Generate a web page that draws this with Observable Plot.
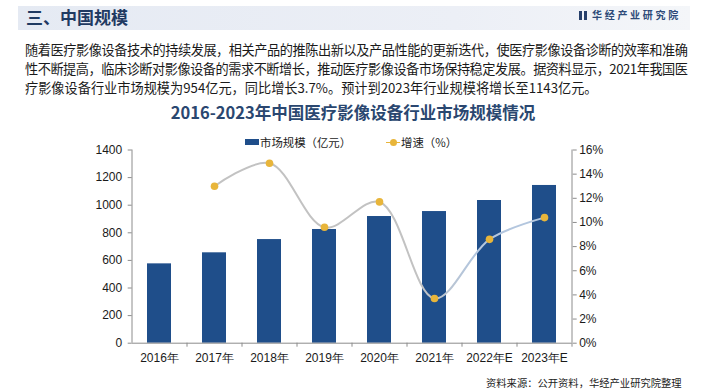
<!DOCTYPE html>
<html>
<head>
<meta charset="utf-8">
<script src="https://cdn.jsdelivr.net/npm/d3@7"></script>
<script src="https://cdn.jsdelivr.net/npm/@observablehq/plot@0.6"></script>
<style>
  html, body { margin: 0; padding: 0; background: #fff; }
  #root { position: relative; width: 705px; height: 392px; overflow: hidden; background: #fff;
          font-family: "Noto Sans CJK SC", "Noto Sans", sans-serif; }
  .abs { position: absolute; white-space: nowrap; }
  #chart { position: absolute; left: 0; top: 130px; }
  .para { position: absolute; left: 25px; font-size: 13.2px; line-height: 18px; color: #1a1a1a; white-space: nowrap; }
</style>
</head>
<body>
<div id="root">
  <div class="abs" style="left:18px;top:6px;width:672px;height:24px;background:linear-gradient(90deg,#e5eaf3 0%,#eceff6 65%,#f4f6f9 100%);"></div>
  <div class="abs" id="hdr" style="left:26px;top:5px;line-height:24px;font-size:17px;font-weight:700;color:#1f3a62;"></div>
  <div class="abs" style="left:579px;top:11px;width:3px;height:9px;background:#27406b;"></div>
  <div class="abs" style="left:583.5px;top:11px;width:3px;height:9px;background:#27406b;"></div>
  <div class="abs" id="logo" style="left:592px;top:7px;line-height:16px;font-size:10px;letter-spacing:2.7px;font-weight:700;color:#2d4a78;"></div>
  <div class="para" id="p1" style="top:41px;"></div>
  <div class="para" id="p2" style="top:60px;"></div>
  <div class="para" id="p3" style="top:79px;"></div>
  <div class="abs" id="ctitle" style="left:0;width:706px;text-align:center;top:100px;line-height:24px;font-size:16.5px;font-weight:700;color:#2a4770;"></div>
  <div id="chart"></div>
  <div class="abs" id="legend" style="left:0;top:133px;height:18px;width:705px;font-size:11.4px;line-height:18px;color:#1a1a1a;z-index:2;"></div>
  <div class="abs" id="src" style="left:486px;top:375px;line-height:16px;font-size:10.3px;color:#222;"></div>
</div>
<script>
// ---- text ----
const headerText = "三、中国规模";
const logoText = "华经产业研究院";
const paraLines = [
  "随着医疗影像设备技术的持续发展，相关产品的推陈出新以及产品性能的更新迭代，使医疗影像设备诊断的效率和准确",
  "性不断提高，临床诊断对影像设备的需求不断增长，推动医疗影像设备市场保持稳定发展。据资料显示，2021年我国医",
  "疗影像设备行业市场规模为954亿元，同比增长3.7%。预计到2023年行业规模将增长至1143亿元。"
];
const chartTitle = "2016-2023年中国医疗影像设备行业市场规模情况";
const legendBar = "市场规模（亿元）";
const legendLine = "增速（%）";
const sourceText = "资料来源：公开资料，华经产业研究院整理";

// ---- data ----
const years = ["2016年", "2017年", "2018年", "2019年", "2020年", "2021年", "2022年E", "2023年E"];
const marketSize = [575, 655, 751, 824, 918, 954, 1034, 1143];
const growthPct = [null, 13.0, 14.9, 9.6, 11.7, 3.7, 8.6, 10.4];
const leftTicks = [0, 200, 400, 600, 800, 1000, 1200, 1400];
const rightTicks = [0, 2, 4, 6, 8, 10, 12, 14, 16];

// ---- colors ----
const barColor = "#1f4e8a";
const dotColor = "#e8b53a";
const axisColor = "#8c8c8c";

document.getElementById("hdr").textContent = headerText;
document.getElementById("logo").textContent = logoText;
["p1", "p2", "p3"].forEach((id, i) => { document.getElementById(id).textContent = paraLines[i]; });
document.getElementById("ctitle").textContent = chartTitle;
document.getElementById("src").textContent = sourceText;

// fit the first two paragraph lines to the reference line width
const lineTargets = [663, 663, null];
["p1", "p2", "p3"].forEach((id, i) => {
  const el = document.getElementById(id);
  const target = lineTargets[i];
  if (target) {
    const w = el.getBoundingClientRect().width;
    const n = [...paraLines[i]].length;
    el.style.letterSpacing = ((target - w) / (n - 1)) + "px";
  }
});

// legend
const lg = document.getElementById("legend");
lg.innerHTML =
  `<div class="abs" style="left:245px;top:6px;width:14px;height:6px;background:${barColor}"></div>` +
  `<div class="abs" style="left:260px;top:0">${legendBar}</div>` +
  `<div class="abs" style="left:386px;top:8.5px;width:14px;height:1.5px;background:${dotColor}"></div>` +
  `<div class="abs" style="left:389.5px;top:5.5px;width:7px;height:7px;border-radius:50%;background:${dotColor}"></div>` +
  `<div class="abs" style="left:401px;top:0">${legendLine}</div>`;

// ---- build chart ----
const rightMax = 16, leftMax = 1400;
const k = leftMax / rightMax; // maps percent onto the left-axis scale
const bars = years.map((y, i) => ({year: y, value: marketSize[i]}));
const growth = years.map((y, i) => ({year: y, g: growthPct[i]})).filter(d => d.g != null);

const chart = Plot.plot({
  width: 705,
  height: 240,
  marginTop: 19.5,
  marginBottom: 27.3,
  marginLeft: 131.7,
  marginRight: 133.3,
  style: {fontFamily: "'Liberation Sans', Arial, sans-serif", fontSize: "12px", background: "transparent", overflow: "visible"},
  x: {domain: years, paddingInner: 0.56, paddingOuter: 0.28},
  y: {domain: [0, leftMax]},
  marks: [
    Plot.barY(bars, {x: "year", y: "value", fill: barColor}),
    Plot.ruleY([0], {stroke: axisColor}),
    Plot.ruleX([years[0]], {dx: -27.5, stroke: axisColor}),
    Plot.ruleX([years[years.length - 1]], {dx: 27.5, stroke: axisColor}),
    Plot.ruleX(years, {x: d => d, dx: 27.5, y1: 0, y2: 0, insetBottom: -4, stroke: axisColor}),
    Plot.axisY(leftTicks, {anchor: "left", tickSize: 4, tickPadding: 6, stroke: axisColor, fill: "#1a1a1a", label: null,
      tickFormat: d => String(d)}),
    Plot.axisY(rightTicks.map(v => v * k), {anchor: "right", tickSize: 4, tickPadding: 3, stroke: axisColor, fill: "#1a1a1a", label: null,
      tickFormat: d => Math.round(d / k) + "%"}),
    Plot.axisX({tickSize: 0, tickPadding: 10, fill: "#1a1a1a", label: null}),
    Plot.line(growth, {x: "year", y: d => d.g * k, curve: "catmull-rom", stroke: "url(#growthGrad)", strokeWidth: 2}),
    Plot.dot(growth, {x: "year", y: d => d.g * k, r: 3.8, fill: dotColor, stroke: "none"})
  ]
});

// gradient for the growth line (gray turning light blue toward the end)
const ns = "http://www.w3.org/2000/svg";
const defs = document.createElementNS(ns, "defs");
const grad = document.createElementNS(ns, "linearGradient");
grad.setAttribute("id", "growthGrad");
grad.setAttribute("x1", "0"); grad.setAttribute("x2", "1"); grad.setAttribute("y1", "0"); grad.setAttribute("y2", "0");
[["0", "#c2c2c2"], ["0.62", "#c2c2c2"], ["0.78", "#b3c6de"], ["1", "#b3c6de"]].forEach(([o, c]) => {
  const s = document.createElementNS(ns, "stop");
  s.setAttribute("offset", o); s.setAttribute("stop-color", c);
  grad.appendChild(s);
});
defs.appendChild(grad);
chart.insertBefore(defs, chart.firstChild);

document.getElementById("chart").appendChild(chart);
</script>
</body>
</html>
